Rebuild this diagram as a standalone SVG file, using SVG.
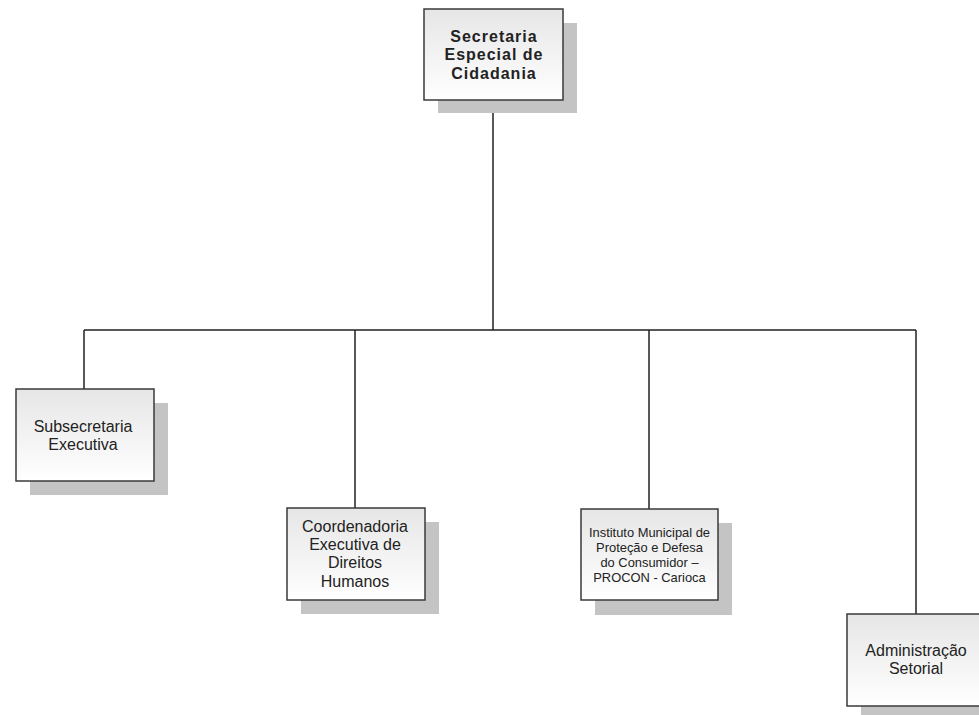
<svg xmlns="http://www.w3.org/2000/svg" width="979" height="715" viewBox="0 0 979 715">
<defs>
<linearGradient id="g" x1="0" y1="0" x2="0" y2="1">
<stop offset="0" stop-color="#e6e6e6"/>
<stop offset="1" stop-color="#ffffff"/>
</linearGradient>
</defs>
<style>
.sh{fill:#c4c4c4}
.bx{fill:url(#g);stroke:#3a3a3a;stroke-width:1.5}
.t{font-family:"Liberation Sans",Arial,sans-serif;font-size:16px;fill:#222;text-anchor:middle}
.b{font-weight:bold;letter-spacing:1px}
.s{font-size:12.9px}
.c{fill:none;stroke:#222;stroke-width:1.5}
</style>
<rect width="979" height="715" fill="#fff"/>
<g id="connectors">
<path class="c" d="M493 100V330M84 330H916M84 330V389M355 330V508M649 330V509M916 330V614"/>
</g>
<g id="n-secretaria">
<rect class="sh" x="438" y="23" width="139" height="90"/>
<rect class="bx" x="424" y="9" width="139" height="91"/>
<text class="t b" x="494" y="42">Secretaria</text>
<text class="t b" x="494" y="60">Especial de</text>
<text class="t b" x="494" y="79">Cidadania</text>
</g>
<g id="n-subsecretaria">
<rect class="sh" x="30" y="403" width="138" height="92"/>
<rect class="bx" x="16" y="389" width="138" height="92"/>
<text class="t" x="83" y="432">Subsecretaria</text>
<text class="t" x="83" y="450">Executiva</text>
</g>
<g id="n-coordenadoria">
<rect class="sh" x="301" y="522" width="138" height="92"/>
<rect class="bx" x="287" y="508" width="138" height="92"/>
<text class="t" x="355" y="532">Coordenadoria</text>
<text class="t" x="355" y="550">Executiva de</text>
<text class="t" x="355" y="568">Direitos</text>
<text class="t" x="355" y="587">Humanos</text>
</g>
<g id="n-procon">
<rect class="sh" x="595" y="523" width="137" height="92"/>
<rect class="bx" x="581" y="509" width="137" height="91"/>
<text class="t s" x="649.5" y="537">Instituto Municipal de</text>
<text class="t s" x="649.5" y="552">Proteção e Defesa</text>
<text class="t s" x="649.5" y="567">do Consumidor –</text>
<text class="t s" x="649.5" y="582">PROCON - Carioca</text>
</g>
<g id="n-administracao">
<rect class="sh" x="861" y="628" width="138" height="92"/>
<rect class="bx" x="847" y="614" width="138" height="92"/>
<text class="t" x="916" y="656">Administração</text>
<text class="t" x="916" y="674">Setorial</text>
</g>
</svg>
